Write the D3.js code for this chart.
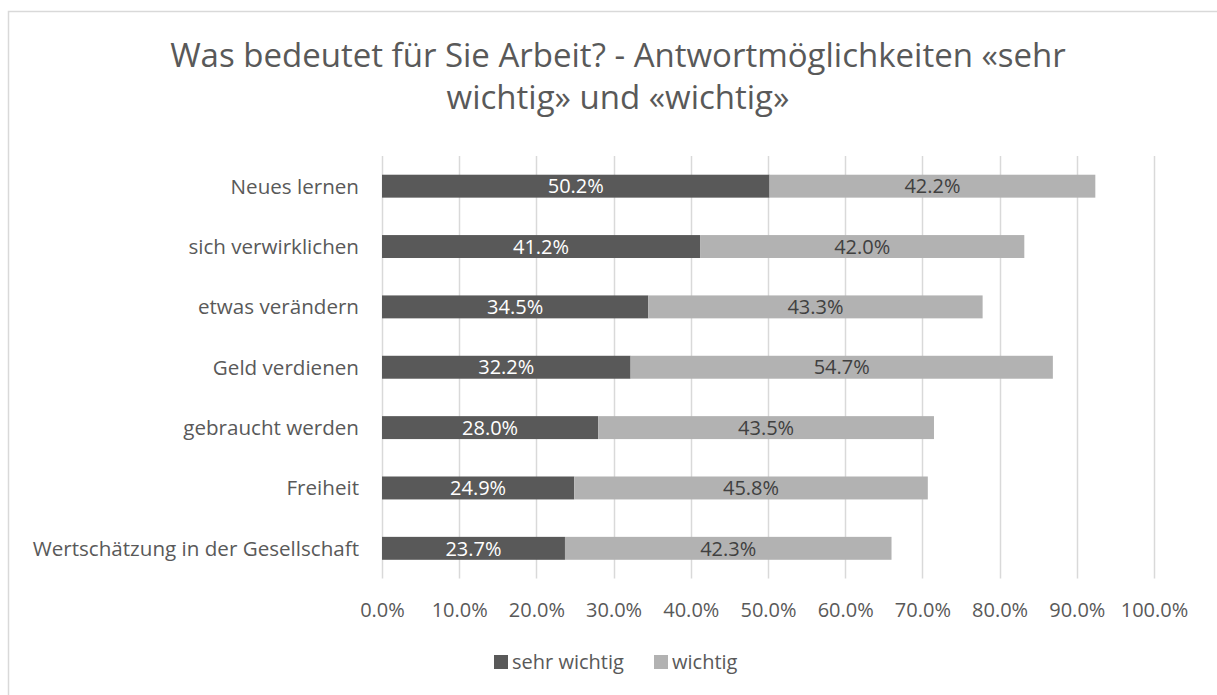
<!DOCTYPE html>
<html>
<head>
<meta charset="utf-8">
<script src="https://cdn.jsdelivr.net/npm/d3@7"></script>
<style>
  body { margin: 0; background: #fff; }
  svg text { font-family: "Open Sans", "DejaVu Sans", sans-serif; }
</style>
</head>
<body>
<svg width="1217" height="695"></svg>
<script>
// categories, top to bottom
var categories = ["Neues lernen", "sich verwirklichen", "etwas verändern", "Geld verdienen",
                  "gebraucht werden", "Freiheit", "Wertschätzung in der Gesellschaft"];
var sehrWichtig = [50.2, 41.2, 34.5, 32.2, 28.0, 24.9, 23.7];
var wichtig     = [42.2, 42.0, 43.3, 54.7, 43.5, 45.8, 42.3];
var seriesNames = ["sehr wichtig", "wichtig"];
var ticks = [0, 10, 20, 30, 40, 50, 60, 70, 80, 90, 100];

var svg = d3.select("svg"),
    width = +svg.attr("width"),
    height = +svg.attr("height");

var textColor = "#595959",
    colors = ["#595959", "#b2b2b2"];

// chart border (right and bottom edges fall outside the picture)
svg.append("rect")
    .attr("x", 8.5).attr("y", 11.5)
    .attr("width", width + 20).attr("height", height + 20)
    .attr("fill", "#fff").attr("stroke", "#d9d9d9").attr("stroke-width", 1.5);

// title
var title = svg.append("text")
    .attr("text-anchor", "middle")
    .attr("fill", textColor)
    .style("font-size", "33px");
title.append("tspan").attr("x", 618).attr("y", 67)
    .text("Was bedeutet für Sie Arbeit? - Antwortmöglichkeiten «sehr");
title.append("tspan").attr("x", 618).attr("y", 109)
    .text("wichtig» und «wichtig»");

var x = d3.scaleLinear().domain([0, 100]).range([382, 1154]);
var y = d3.scaleBand().domain(categories).range([156, 578.5]).paddingInner(0.62).paddingOuter(0.31);

// gridlines
svg.append("g")
  .selectAll("line")
  .data(ticks)
  .enter().append("line")
    .attr("x1", function(d) { return Math.round(x(d)) + 0.5; })
    .attr("x2", function(d) { return Math.round(x(d)) + 0.5; })
    .attr("y1", 156).attr("y2", 578.5)
    .attr("stroke", "#d9d9d9").attr("stroke-width", 1.5);

// x axis labels
var xAxis = svg.append("g")
    .attr("transform", "translate(0,578)")
    .call(d3.axisBottom(x).tickValues(ticks).tickSize(0).tickPadding(0)
      .tickFormat(function(d) { return d.toFixed(1) + "%"; }));
xAxis.select(".domain").remove();
xAxis.selectAll("text")
    .attr("y", 39).attr("dy", 0)
    .attr("fill", textColor)
    .style("font-size", "20px");

// category labels
var yAxis = svg.append("g")
    .attr("transform", "translate(359,0)")
    .call(d3.axisLeft(y).tickSize(0).tickPadding(0));
yAxis.select(".domain").remove();
yAxis.selectAll("text")
    .attr("fill", textColor)
    .attr("dy", "0.36em")
    .style("font-size", "20.6px");

// stacked bars
var rows = categories.map(function(c, i) {
  return { cat: c, a: sehrWichtig[i], b: wichtig[i] };
});
var stack = d3.stack().keys(["a", "b"])(rows);

var layer = svg.selectAll(".layer")
  .data(stack)
  .enter().append("g")
    .attr("class", "layer")
    .attr("fill", function(d, i) { return colors[i]; });

layer.selectAll("rect")
  .data(function(d) { return d; })
  .enter().append("rect")
    .attr("x", function(d) { return x(d[0]); })
    .attr("y", function(d) { return y(d.data.cat); })
    .attr("width", function(d) { return x(d[1]) - x(d[0]); })
    .attr("height", y.bandwidth());

layer.selectAll("text")
  .data(function(d) { return d; })
  .enter().append("text")
    .attr("x", function(d) { return (x(d[0]) + x(d[1])) / 2; })
    .attr("y", function(d) { return y(d.data.cat) + y.bandwidth() / 2; })
    .attr("dy", "0.36em")
    .attr("text-anchor", "middle")
    .attr("fill", function(d) { return d[0] === 0 ? "#ffffff" : "#404040"; })
    .style("font-size", "20px")
    .text(function(d) { return (d[1] - d[0]).toFixed(1) + "%"; });

// legend
var legend = svg.append("g");
var legendX = [494, 654];
seriesNames.forEach(function(name, i) {
  legend.append("rect")
      .attr("x", legendX[i]).attr("y", 655)
      .attr("width", 14).attr("height", 14)
      .attr("fill", colors[i]);
  legend.append("text")
      .attr("x", legendX[i] + 18).attr("y", 669)
      .attr("fill", textColor)
      .style("font-size", "20px")
      .text(name);
});
</script>
</body>
</html>
